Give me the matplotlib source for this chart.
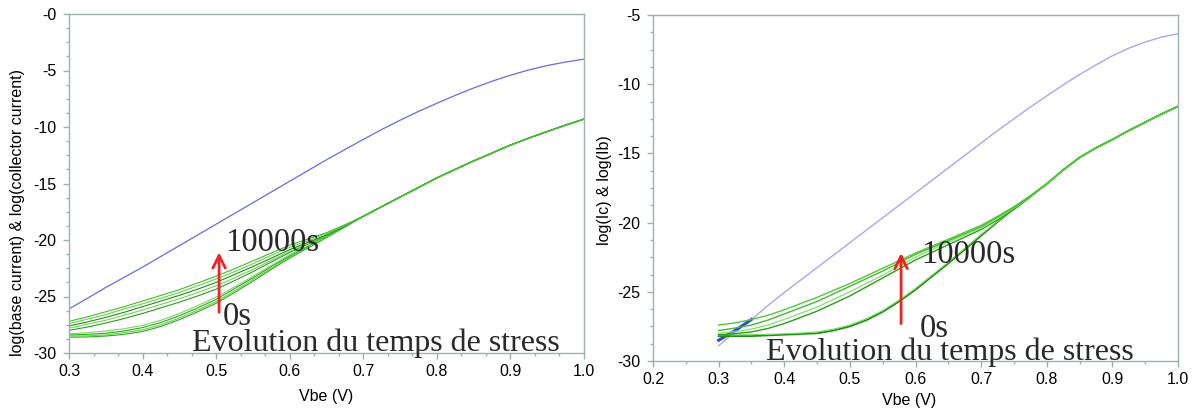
import matplotlib
matplotlib.use("Agg")
import matplotlib.pyplot as plt
from matplotlib.ticker import AutoMinorLocator

# ---------------- data ----------------
# Vbe grid, 0.3 .. 1.0 in steps of 0.025
vbe = [0.3, 0.325, 0.35, 0.375, 0.4, 0.425, 0.45, 0.475, 0.5, 0.525, 0.55, 0.575,
       0.6, 0.625, 0.65, 0.675, 0.7, 0.725, 0.75, 0.775, 0.8, 0.825, 0.85, 0.875,
       0.9, 0.925, 0.95, 0.975, 1.0]

# ---- Left panel ----
left_ic = [-26.1, -25.16, -24.2, -23.3, -22.4, -21.45, -20.5, -19.55, -18.6, -17.65,
           -16.7, -15.75, -14.8, -13.85, -12.9, -12.0, -11.1, -10.22, -9.4, -8.62,
           -7.9, -7.2, -6.55, -5.95, -5.42, -4.95, -4.56, -4.25, -4.0]
# common base-current tail, Vbe 0.7 .. 1.0
left_tail = [-17.9, -17.05, -16.2, -15.35, -14.5, -13.75, -13.0, -12.3, -11.6,
             -10.98, -10.4, -9.83, -9.3]
# base current per stress time, Vbe 0.3 .. 0.675
left_ib_0s = [-28.6, -28.58, -28.5, -28.35, -28.1, -27.65, -27.05, -26.35, -25.6,
              -24.65, -23.65, -22.6, -21.6, -20.7, -19.8, -18.85]
left_ib_10s = [-28.5, -28.48, -28.4, -28.2, -27.95, -27.5, -26.9, -26.2, -25.45,
               -24.5, -23.5, -22.5, -21.5, -20.6, -19.75, -18.8]
left_ib_30s = [-28.4, -28.35, -28.25, -28.05, -27.75, -27.3, -26.7, -26.0, -25.25,
               -24.3, -23.35, -22.35, -21.4, -20.55, -19.7, -18.8]
left_ib_100s = [-28.3, -28.2, -28.05, -27.85, -27.55, -27.1, -26.5, -25.8, -25.05,
                -24.15, -23.2, -22.25, -21.3, -20.5, -19.7, -18.8]
left_ib_300s = [-28.0, -27.7, -27.35, -26.95, -26.5, -26.0, -25.5, -24.95, -24.35,
                -23.6, -22.8, -21.95, -21.1, -20.35, -19.65, -18.8]
left_ib_1000s = [-27.8, -27.45, -27.1, -26.65, -26.2, -25.7, -25.2, -24.65, -24.05,
                 -23.35, -22.6, -21.8, -21.0, -20.3, -19.6, -18.75]
left_ib_2000s = [-27.6, -27.25, -26.85, -26.4, -25.9, -25.4, -24.9, -24.35, -23.75,
                 -23.05, -22.35, -21.6, -20.85, -20.2, -19.55, -18.75]
left_ib_5000s = [-27.4, -27.0, -26.6, -26.1, -25.65, -25.15, -24.65, -24.05, -23.45,
                 -22.8, -22.1, -21.35, -20.65, -20.05, -19.45, -18.7]
left_ib_10000s = [-27.2, -26.8, -26.35, -25.9, -25.4, -24.9, -24.4, -23.8, -23.2,
                  -22.55, -21.85, -21.15, -20.45, -19.9, -19.35, -18.65]

# ---- Right panel ----
right_ic = [-28.9, -27.9, -27.0, -26.0, -25.05, -24.15, -23.25, -22.35, -21.45, -20.55,
            -19.65, -18.75, -17.85, -16.95, -16.05, -15.15, -14.25, -13.35, -12.5,
            -11.65, -10.85, -10.05, -9.3, -8.6, -7.95, -7.4, -6.95, -6.6, -6.35]
right_ic_start_vbe = [0.3, 0.325, 0.35]
right_ic_start = [-28.5, -27.8, -27.0]
# common base-current tail, Vbe 0.8 .. 1.0
right_tail = [-17.2, -16.2, -15.3, -14.6, -14.0, -13.35, -12.75, -12.15, -11.6]
# base current per stress time, Vbe 0.3 .. 0.775
right_ib_0s = [-28.2, -28.2, -28.2, -28.15, -28.1, -28.05, -28.0, -27.8, -27.5, -27.05,
               -26.45, -25.7, -24.85, -23.9, -22.95, -21.95, -20.95, -19.95, -19.0, -18.1]
right_ib_0s_b = [-28.1, -28.1, -28.1, -28.07, -28.03, -27.98, -27.9, -27.7, -27.4, -26.95,
                 -26.35, -25.6, -24.75, -23.8, -22.85, -21.85, -20.85, -19.9, -18.98, -18.08]
right_ib_100s = [-28.1, -28.02, -27.9, -27.65, -27.3, -26.85, -26.4, -25.85, -25.3, -24.65,
                 -24.0, -23.35, -22.7, -22.15, -21.6, -21.05, -20.5, -19.8, -19.05, -18.15]
right_ib_1000s = [-28.0, -27.88, -27.7, -27.4, -27.0, -26.55, -26.1, -25.55, -25.0, -24.4,
                  -23.8, -23.15, -22.5, -21.95, -21.4, -20.9, -20.4, -19.7, -18.95, -18.1]
right_ib_5000s = [-27.8, -27.62, -27.4, -27.05, -26.6, -26.15, -25.7, -25.15, -24.6, -24.05,
                  -23.5, -22.9, -22.3, -21.8, -21.3, -20.8, -20.3, -19.6, -18.9, -18.08]
right_ib_10000s = [-27.4, -27.25, -27.0, -26.7, -26.3, -25.85, -25.4, -24.9, -24.4, -23.85,
                   -23.3, -22.75, -22.2, -21.7, -21.2, -20.7, -20.2, -19.55, -18.85, -18.05]

left_yticks = [0, -5, -10, -15, -20, -25, -30]
left_yticklabels = ["-0", "-5", "-10", "-15", "-20", "-25", "-30"]
left_xticks = [0.3, 0.4, 0.5, 0.6, 0.7, 0.8, 0.9, 1.0]
right_yticks = [-5, -10, -15, -20, -25, -30]
right_xticks = [0.2, 0.3, 0.4, 0.5, 0.6, 0.7, 0.8, 0.9, 1.0]

# ---------------- figure ----------------
W, H = 1198, 409
fig = plt.figure(figsize=(W / 100, H / 100), dpi=100)
fig.patch.set_facecolor("white")

spine_col = "#9fb0b0"
sans = ["Liberation Sans", "DejaVu Sans"]
serif = ["Liberation Serif", "DejaVu Serif"]
txt_col = "#2a2a2a"
TXT = 23.5
EVO = 23


def px_axes(x0, y0, x1, y1):
    return fig.add_axes([x0 / W, 1 - y1 / H, (x1 - x0) / W, (y1 - y0) / H])


def style(ax, xticks, yticks, ylabels, xminor, yminor):
    for s in ax.spines.values():
        s.set_color(spine_col)
        s.set_linewidth(1.0)
    ax.set_xticks(xticks)
    ax.set_xticklabels([f"{t:.1f}" for t in xticks], fontfamily=sans, fontsize=11.5)
    ax.set_yticks(yticks)
    ax.set_yticklabels(ylabels, fontfamily=sans, fontsize=11.5)
    ax.xaxis.set_minor_locator(AutoMinorLocator(xminor))
    ax.yaxis.set_minor_locator(AutoMinorLocator(yminor))
    ax.tick_params(which="major", direction="out", length=4, width=1, color=spine_col,
                   labelcolor="black", pad=4)
    ax.tick_params(which="minor", direction="out", length=2.5, width=1, color=spine_col)
    ax.tick_params(axis="y", which="major", pad=5)


arrow_props = dict(arrowstyle="->,head_length=0.9,head_width=0.45",
                   color="#ee2222", lw=2.0, shrinkA=0, shrinkB=0)

# ---------- left panel ----------
axL = px_axes(69, 14, 584, 353)
axL.set_xlim(0.3, 1.0)
axL.set_ylim(-30, 0)
style(axL, left_xticks, left_yticks, left_yticklabels, 3, 4)

axL.plot(vbe, left_ic, color="#6a6ae6", lw=0.9)
lefts = [left_ib_0s, left_ib_10s, left_ib_30s, left_ib_100s, left_ib_300s,
         left_ib_1000s, left_ib_2000s, left_ib_5000s, left_ib_10000s]
gcols = ["#2ea81c", "#66d24e", "#2ea81c", "#7ad866", "#2a9e18",
         "#70d45a", "#1f8f10", "#66d24e", "#44bb2c"]
for curve, c in zip(lefts, gcols):
    axL.plot(vbe, curve + left_tail, color=c, lw=0.8)

axL.annotate("", xy=(0.504, -21.1), xytext=(0.504, -26.4), arrowprops=arrow_props)
axL.text(0.512, -20.2, "10000s", fontfamily=serif, fontsize=TXT, color=txt_col,
         va="center", ha="left")
axL.text(0.509, -26.8, "0s", fontfamily=serif, fontsize=TXT, color=txt_col,
         va="center", ha="left")
axL.text(0.467, -29.1, "Evolution du temps de stress", fontfamily=serif, fontsize=EVO,
         color=txt_col, va="center", ha="left", clip_on=False)

fig.text(18 / W, 1 - 212 / H, "log(base current) & log(collector current)",
         rotation=90, ha="center", va="center", fontfamily=sans, fontsize=11.5)
fig.text(326 / W, 1 - 396 / H, "Vbe (V)", ha="center", va="center",
         fontfamily=sans, fontsize=11.5)

# ---------- right panel ----------
axR = px_axes(653, 15, 1178, 361)
axR.set_xlim(0.2, 1.0)
axR.set_ylim(-30, -5)
style(axR, right_xticks, right_yticks, [str(t) for t in right_yticks], 2, 4)

axR.plot(vbe, right_ic, color="#a8a8f2", lw=1.0)
axR.plot(right_ic_start_vbe, right_ic_start, color="#3344ee", lw=2.2)

for curve, c, lw in zip([right_ib_0s, right_ib_0s_b], ["#1f8f10", "#7ad866"], [1.3, 0.8]):
    axR.plot(vbe, curve + right_tail, color=c, lw=lw)
for curve, c in zip([right_ib_100s, right_ib_1000s, right_ib_5000s, right_ib_10000s],
                    ["#2a9e18", "#8fe07c", "#44bb2c", "#55c63c"]):
    axR.plot(vbe, curve + right_tail, color=c, lw=1.0)

axR.annotate("", xy=(0.578, -22.2), xytext=(0.578, -27.3), arrowprops=arrow_props)
axR.text(0.608, -22.3, "10000s", fontfamily=serif, fontsize=TXT, color=txt_col,
         va="center", ha="left")
axR.text(0.606, -27.7, "0s", fontfamily=serif, fontsize=TXT, color=txt_col,
         va="center", ha="left")
axR.text(0.372, -29.4, "Evolution du temps de stress", fontfamily=serif, fontsize=EVO,
         color=txt_col, va="center", ha="left", clip_on=False)

fig.text(605 / W, 1 - 190 / H, "log(Ic) & log(Ib)", rotation=90, ha="center",
         va="center", fontfamily=sans, fontsize=11.5)
fig.text(909 / W, 1 - 400 / H, "Vbe (V)", ha="center", va="center",
         fontfamily=sans, fontsize=11.5)

fig.savefig("out.png", dpi=100, facecolor="white")
